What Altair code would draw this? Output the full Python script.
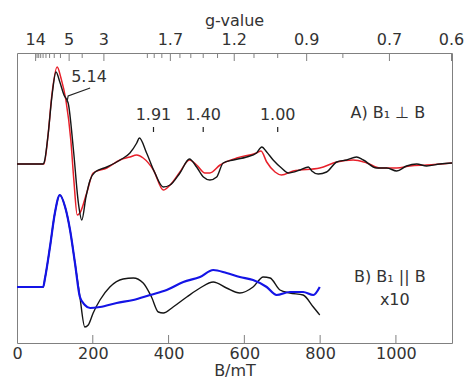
import altair as alt
import pandas as pd

# ---------------- data (B in mT, intensity in arbitrary units) ----------------
a_black_B = [0, 69, 72, 82, 92, 103, 113, 124, 135, 149, 162, 171, 182, 193, 206, 237, 272, 298, 316, 323,
             342, 364, 386, 404, 430, 455, 474, 492, 509, 527, 544, 571, 606, 632, 646, 659, 676, 698, 716,
             747, 769, 778, 795, 817, 844, 870, 896, 914, 949, 976, 1002, 1028, 1055, 1081, 1116, 1148]
a_black_I = [179, 179, 181, 208, 246, 271, 261, 248, 240, 193, 140, 123, 146, 163, 171, 176, 183, 190, 200, 205,
             190, 170, 156, 158, 170, 184, 176, 166, 163, 166, 180, 183, 186, 190, 196, 191, 183, 175, 170,
             173, 176, 172, 169, 171, 181, 183, 186, 183, 175, 175, 172, 177, 179, 177, 179, 180]

a_red_B = [0, 71, 82, 92, 106, 116, 129, 142, 150, 159, 166, 184, 201, 237, 272, 298, 316, 333, 360, 386,
           404, 430, 455, 474, 496, 509, 536, 580, 632, 644, 659, 681, 698, 729, 799, 844, 887, 923, 958,
           1002, 1037, 1081, 1148]
a_red_I = [179, 179, 208, 248, 276, 265, 243, 203, 163, 128, 130, 150, 170, 175, 183, 186, 188, 185, 173, 153,
           158, 171, 183, 178, 170, 170, 178, 185, 190, 192, 181, 171, 168, 172, 175, 181, 183, 180, 175,
           175, 177, 178, 180]

b_black_B = [0, 69, 74, 87, 100, 113, 127, 140, 153, 166, 179, 188, 201, 219, 245, 280, 307, 333, 355, 373,
             386, 412, 448, 483, 518, 553, 588, 623, 650, 668, 694, 720, 755, 782, 799]
b_black_I = [56, 56, 65, 96, 130, 148, 136, 113, 80, 46, 16, 18, 30, 43, 56, 64, 65, 60, 46, 31,
             30, 36, 46, 55, 61, 55, 50, 56, 66, 65, 53, 50, 48, 36, 28]

b_blue_B = [0, 69, 74, 87, 100, 113, 127, 140, 153, 166, 179, 193, 219, 263, 307, 351, 395, 439, 483, 518,
            553, 588, 623, 659, 685, 720, 755, 782, 799]
b_blue_I = [56, 56, 65, 96, 130, 148, 136, 113, 80, 46, 38, 35, 36, 40, 43, 48, 53, 61, 66, 73,
            70, 66, 63, 56, 48, 51, 51, 48, 56]

# bottom axis ticks
b_ticks = [0, 200, 400, 600, 800, 1000]

# top g-value axis
g_major = [14, 5, 3, 1.7, 1.2, 0.9, 0.7, 0.6]
g_major_labels = ["14", "5", "3", "1.7", "1.2", "0.9", "0.7", "0.6"]
g_minor = [13, 12, 11, 10, 9, 8, 7, 6, 4, 2, 1.9, 1.8, 1.6, 1.5, 1.4, 1.3, 1.1, 1.0, 0.8]
g_conv = 688  # g * B (mT)

# g-value markers on spectrum A
mark_g = [1.91, 1.40, 1.00]
mark_labels = ["1.91", "1.40", "1.00"]
mark_text_I = 228
mark_tick_I = [211, 216]

# other annotations
ann_text = ["5.14", "A) B\u2081 \u22a5 B", "B) B\u2081 || B", "x10"]
ann_B = [190, 979, 984, 997]
ann_I = [266, 230, 66, 43]
leader_B = [132, 135, 193]
leader_I = [241, 247, 255]

# ---------------- chart ----------------
FONT = "DejaVu Sans"
TXT = "#333333"
W, H = 435, 290

xs = alt.Scale(domain=[0, 1148], nice=False, zero=False)
ys = alt.Scale(domain=[0, 290], nice=False, zero=False)

x_axis = alt.Axis(values=b_ticks, title="B/mT", tickSize=0, domain=False, grid=False, format="d",
                  labelFont=FONT, labelFontSize=16, labelColor=TXT, labelPadding=2,
                  titleFont=FONT, titleFontSize=16, titleColor=TXT, titleFontWeight="normal",
                  titlePadding=1, labelFlush=False)


def X():
    return alt.X("B:Q", scale=xs, axis=x_axis, title="B/mT")


def Y(f="I:Q"):
    return alt.Y(f, scale=ys, axis=None)


def line(Bv, Iv, color, width=1.4):
    df = pd.DataFrame({"B": Bv, "I": Iv})
    return alt.Chart(df).mark_line(color=color, strokeWidth=width, interpolate="monotone").encode(
        x=X(), y=Y())


red_a = line(a_red_B, a_red_I, "#e8202a", 1.5)
black_a = line(a_black_B, a_black_I, "#151515", 1.4)
black_b = line(b_black_B, b_black_I, "#151515", 1.4)
blue_b = line(b_blue_B, b_blue_I, "#1414e6", 2.2)

# bottom inward ticks
bt = alt.Chart(pd.DataFrame({"B": b_ticks[1:]})).mark_rule(color="#808080", strokeWidth=1).encode(
    x=X(), y=alt.value(H), y2=alt.value(H - 8))

# top g ticks
gmaj_df = pd.DataFrame({"g": g_major, "lab": g_major_labels})
gmin_df = pd.DataFrame({"g": g_minor})
top_major = alt.Chart(gmaj_df).transform_calculate(B=f"{g_conv}/datum.g").mark_rule(
    color="#808080", strokeWidth=1).encode(x=X(), y=alt.value(0), y2=alt.value(8))
top_minor = alt.Chart(gmin_df).transform_calculate(B=f"{g_conv}/datum.g").mark_rule(
    color="#808080", strokeWidth=1).encode(x=X(), y=alt.value(0), y2=alt.value(5))
top_labels = alt.Chart(gmaj_df).transform_calculate(B=f"{g_conv}/datum.g").mark_text(
    font=FONT, fontSize=16, color=TXT, baseline="middle", align="center").encode(
    x=X(), y=alt.value(-13), text="lab:N")
top_title = alt.Chart(pd.DataFrame({"t": ["g-value"]})).mark_text(
    font=FONT, fontSize=16, color=TXT, baseline="middle", align="center").encode(
    x=alt.value(W / 2), y=alt.value(-32), text="t:N")

# g markers on spectrum A
mk_df = pd.DataFrame({"g": mark_g, "lab": mark_labels})
mk_text = alt.Chart(mk_df).transform_calculate(B=f"{g_conv}/datum.g", I=str(mark_text_I)).mark_text(
    font=FONT, fontSize=16, color=TXT, baseline="middle", align="center").encode(
    x=X(), y=Y(), text="lab:N")
mk_tick = alt.Chart(mk_df).transform_calculate(
    B=f"{g_conv}/datum.g", I0=str(mark_tick_I[0]), I1=str(mark_tick_I[1])).mark_rule(
    color="#222222", strokeWidth=1.2).encode(x=X(), y=Y("I0:Q"), y2="I1:Q")

ann = alt.Chart(pd.DataFrame({"B": ann_B, "I": ann_I, "t": ann_text})).mark_text(
    font=FONT, fontSize=16, color=TXT, baseline="middle", align="center").encode(
    x=X(), y=Y(), text="t:N")
leader = alt.Chart(pd.DataFrame({"B": leader_B, "I": leader_I})).mark_line(
    color="#222222", strokeWidth=1.2).encode(x=X(), y=Y())

chart = alt.layer(
    red_a, black_a, black_b, blue_b, bt, top_major, top_minor, top_labels, top_title,
    mk_text, mk_tick, ann, leader
).properties(
    width=W, height=H,
    background="white",
    autosize=alt.AutoSizeParams(type="none"),
    padding={"left": 17, "top": 53, "right": 13, "bottom": 38},
).configure_view(stroke="#808080", strokeWidth=1)

chart.save("out.html", embed_options={"renderer": "svg", "actions": False})
